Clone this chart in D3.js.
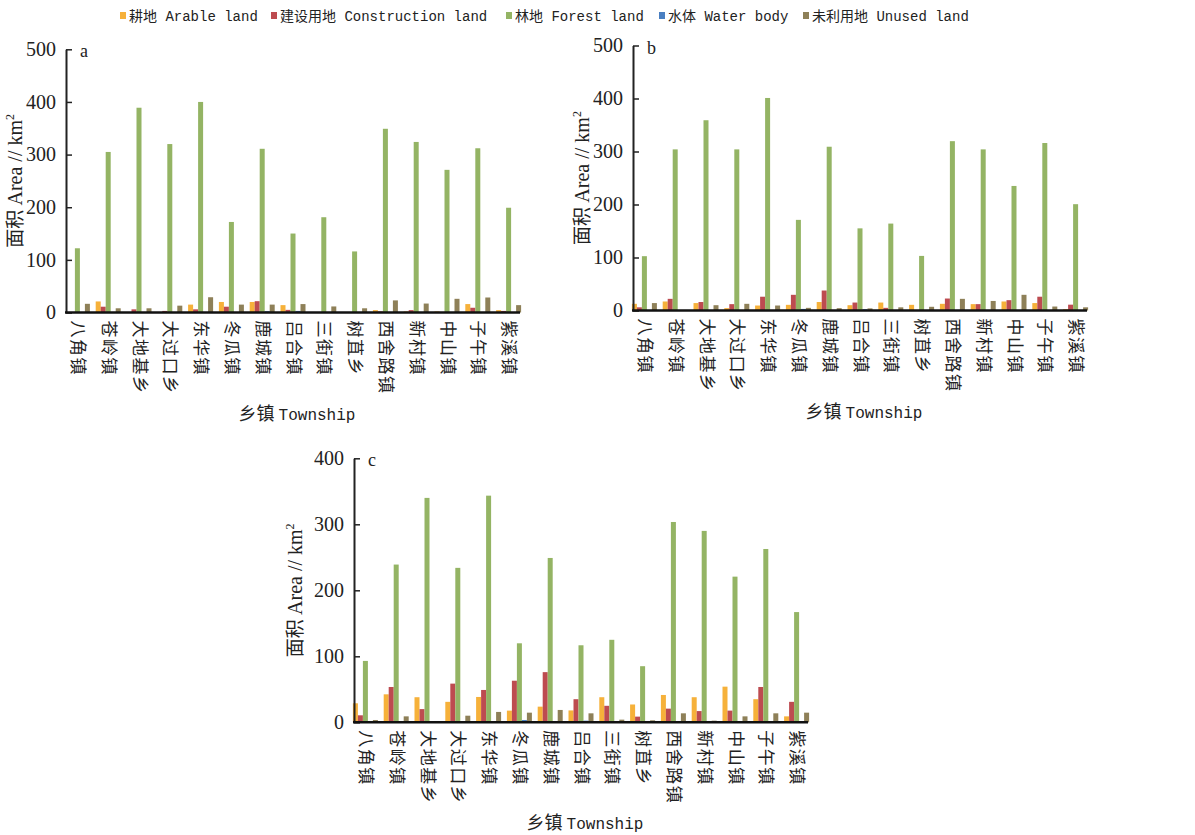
<!DOCTYPE html>
<html>
<head>
<meta charset="utf-8">
<script src="https://cdn.jsdelivr.net/npm/d3@7"></script>
<style>
  body { margin: 0; background: #fff; }
</style>
</head>
<body>
<script>
var width = 1195;
var height = 835;

// townships on the x axis
var townships = ["八角镇", "苍岭镇", "大地基乡", "大过口乡", "东华镇", "冬瓜镇", "鹿城镇", "吕合镇",
                 "三街镇", "树苴乡", "西舍路镇", "新村镇", "中山镇", "子午镇", "紫溪镇"];

var landTypes = ["耕地 Arable land", "建设用地 Construction land", "林地 Forest land", "水体 Water body", "未利用地 Unused land"];
var colors = ["#f6b13a", "#bd4b50", "#94b464", "#4a7fc1", "#8e8058"];

// panel a
var arableA       = [0, 21, 0, 0, 15, 20, 20, 14, 0, 0, 4.5, 2, 2, 16, 4.5];
var constructionA = [0, 11, 6, 3, 6, 11, 21.5, 5, 0, 0, 2, 4.5, 1, 9, 3];
var forestA       = [122, 305, 389, 320, 400, 172, 311, 150, 181, 116, 349, 324, 271, 312, 199];
var waterA        = [0, 0, 0, 0, 1, 0, 2.5, 3, 0, 0, 0, 0, 0, 0, 0];
var unusedA       = [16.5, 8, 8, 13, 29, 15, 15, 16, 11.5, 8, 23, 17, 26, 28.5, 14];

// panel b
var arableB       = [12.6, 17, 14, 4.5, 9.4, 10.7, 16, 10, 15, 10.7, 12.6, 12, 17, 14, 2.5];
var constructionB = [6, 22, 16, 12, 26, 29.6, 37.7, 15, 5, 0, 22.6, 12, 19.5, 26, 11];
var forestB       = [102.5, 304, 359, 304, 401, 171, 309, 155, 164, 103, 319.5, 304, 235, 316, 200.6];
var waterB        = [0, 1, 0, 0, 0, 3, 0, 2.5, 0, 0, 0, 0, 0, 0, 0];
var unusedB       = [14, 1, 10, 12.6, 9.4, 5, 4.4, 4, 6, 7, 22, 18, 29.6, 7.5, 6];

// panel c
var arableC       = [28.8, 42.4, 38, 31, 38.4, 17.7, 23.7, 18, 38, 27, 41.4, 38, 54, 35, 9];
var constructionC = [10.6, 53.5, 20, 58.6, 49, 63, 76, 35, 25, 8.6, 20.7, 17, 17.7, 53.5, 31];
var forestC       = [93, 239, 340, 234, 343.4, 119.7, 249, 116.7, 125, 85, 303.5, 290, 220.7, 262.6, 167];
var waterC        = [0, 0, 0, 0, 1.5, 3.5, 0, 2.5, 0, 0, 0, 2, 1, 0, 0];
var unusedC       = [3.5, 9, 2, 10, 15.7, 14.6, 18.7, 13.6, 4, 3, 13.6, 2.5, 9, 13.6, 14.6];

var ticksAB = [0, 100, 200, 300, 400, 500];
var ticksC  = [0, 100, 200, 300, 400];

var serif = "'Liberation Serif', 'Noto Sans CJK SC', serif";
var mono  = "'Liberation Mono', 'Noto Sans CJK SC', monospace";
var cjk   = "'Noto Sans CJK SC', sans-serif";

var svg = d3.select("body").append("svg")
    .attr("width", width)
    .attr("height", height);

// legend
var legendX = [120, 271, 506, 659, 803];
var legend = svg.append("g").attr("class", "legend");
legend.selectAll("rect")
  .data(landTypes)
  .enter().append("rect")
  .attr("x", function(d, i) { return legendX[i]; })
  .attr("y", 12)
  .attr("width", 6)
  .attr("height", 7)
  .attr("fill", function(d, i) { return colors[i]; });
legend.selectAll("text")
  .data(landTypes)
  .enter().append("text")
  .attr("x", function(d, i) { return legendX[i] + 9; })
  .attr("y", 21)
  .attr("font-family", mono)
  .attr("font-size", 14)
  .attr("fill", "#222")
  .text(function(d) { return d; });

// one panel
function drawPanel(p) {
  var series = [p.arable, p.construction, p.forest, p.water, p.unused];

  var x = d3.scaleBand()
    .domain(townships)
    .range([p.left - 4, p.right + 4]);

  var inner = d3.scaleBand()
    .domain(d3.range(5))
    .range([0, 25]);

  var y = d3.scaleLinear()
    .domain([0, p.max])
    .range([p.bottom, p.top]);

  var g = svg.append("g");

  var groups = g.selectAll("g.town")
    .data(townships)
    .enter().append("g")
    .attr("class", "town")
    .attr("transform", function(d) { return "translate(" + (x(d) + x.bandwidth() / 2 - 12.5) + ",0)"; });

  groups.selectAll("rect")
    .data(function(d, i) { return series.map(function(s, k) { return {k: k, v: s[i]}; }); })
    .enter().append("rect")
    .attr("x", function(d) { return inner(d.k); })
    .attr("width", inner.bandwidth())
    .attr("y", function(d) { return y(d.v); })
    .attr("height", function(d) { return y(0) - y(d.v); })
    .attr("fill", function(d) { return colors[d.k]; });

  // y axis, ticks pointing inward
  var yAxis = g.append("g")
    .attr("transform", "translate(" + p.left + ",0)")
    .call(d3.axisLeft(y).tickValues(p.ticks).tickSize(-6).tickPadding(10).tickSizeOuter(0));
  yAxis.select(".domain").attr("stroke", "#222").attr("stroke-width", 2);
  yAxis.selectAll(".tick line").attr("stroke", "#222").attr("stroke-width", 1.5);
  yAxis.selectAll(".tick text")
    .attr("font-family", serif)
    .attr("font-size", 20)
    .attr("fill", "#222");

  // x axis line
  g.append("line")
    .attr("x1", p.left - 1)
    .attr("x2", p.right)
    .attr("y1", y(0))
    .attr("y2", y(0))
    .attr("stroke", "#111")
    .attr("stroke-width", 2.5);

  // township labels, turned down
  g.selectAll("text.town")
    .data(townships)
    .enter().append("text")
    .attr("class", "town")
    .attr("transform", function(d) { return "translate(" + (x(d) + x.bandwidth() / 2 + 2) + "," + (y(0) + 8) + ") rotate(90)"; })
    .attr("dominant-baseline", "central")
    .attr("font-family", cjk)
    .attr("font-size", 17)
    .attr("letter-spacing", 1.5)
    .attr("fill", "#222")
    .text(function(d) { return d; });

  // panel letter
  g.append("text")
    .attr("x", p.left + 14)
    .attr("y", p.top + 8)
    .attr("font-family", serif)
    .attr("font-size", 18)
    .attr("fill", "#222")
    .text(p.name);

  // y title
  var yt = g.append("text")
    .attr("transform", "translate(" + p.titleX + "," + (p.top + p.bottom) / 2 + ") rotate(-90)")
    .attr("text-anchor", "middle")
    .attr("font-family", serif)
    .attr("font-size", 20)
    .attr("fill", "#222");
  yt.append("tspan").attr("font-family", cjk).attr("font-size", 19).text("面积 ");
  yt.append("tspan").text("Area // km");
  yt.append("tspan").attr("font-size", 12).attr("dy", -8).text("2");

  // x title
  var xt = g.append("text")
    .attr("x", (p.left + p.right) / 2 + 4)
    .attr("y", y(0) + 107)
    .attr("text-anchor", "middle")
    .attr("font-family", mono)
    .attr("font-size", 16)
    .attr("fill", "#222");
  xt.append("tspan").attr("font-family", cjk).attr("font-size", 18).text("乡镇 ");
  xt.append("tspan").text("Township");
}

drawPanel({name: "a", left: 66, right: 520, top: 49.3, bottom: 312.5, max: 500, ticks: ticksAB, titleX: 22,
  arable: arableA, construction: constructionA, forest: forestA, water: waterA, unused: unusedA});
drawPanel({name: "b", left: 633, right: 1087, top: 45.5, bottom: 310.5, max: 500, ticks: ticksAB, titleX: 589,
  arable: arableB, construction: constructionB, forest: forestB, water: waterB, unused: unusedB});
drawPanel({name: "c", left: 354, right: 808, top: 458.3, bottom: 722.3, max: 400, ticks: ticksC, titleX: 302,
  arable: arableC, construction: constructionC, forest: forestC, water: waterC, unused: unusedC});
</script>
</body>
</html>
